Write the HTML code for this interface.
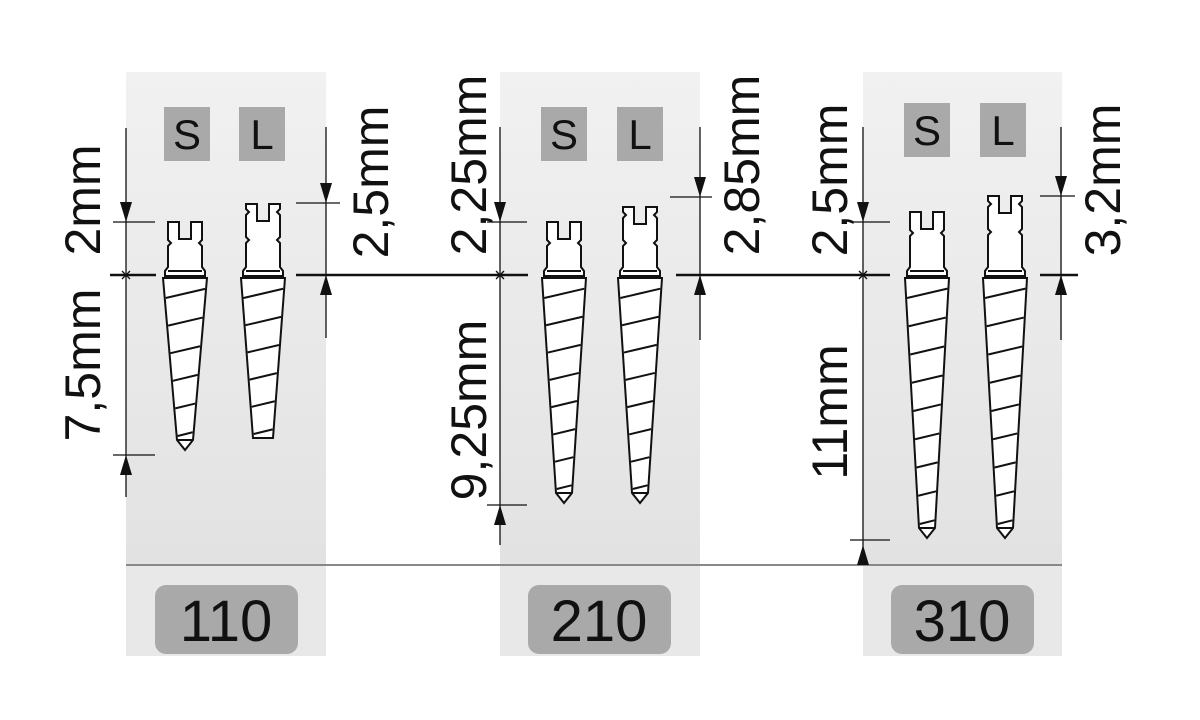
<!DOCTYPE html>
<html><head><meta charset="utf-8"><style>
html,body{margin:0;padding:0;background:#fff;}
svg{display:block;}
text{font-family:"Liberation Sans",sans-serif;fill:#111;}
</style></head><body>
<svg id="s" width="1200" height="720" viewBox="0 0 1200 720" xmlns="http://www.w3.org/2000/svg">
<defs>
<linearGradient id="g" x1="0" y1="0" x2="0" y2="1">
<stop offset="0" stop-color="#f1f1f1"/><stop offset="1" stop-color="#e2e2e2"/>
</linearGradient>
</defs>
<g id="panels">
<rect x="126" y="72" width="200" height="493" fill="url(#g)"/>
<rect x="500" y="72" width="200" height="493" fill="url(#g)"/>
<rect x="863" y="72" width="199" height="493" fill="url(#g)"/>
<rect x="126" y="565" width="200" height="91" fill="#e8e8e8"/>
<rect x="500" y="565" width="200" height="91" fill="#e8e8e8"/>
<rect x="863" y="565" width="199" height="91" fill="#e8e8e8"/>
<line x1="126" y1="565" x2="1062" y2="565" stroke="#888" stroke-width="2"/>
</g>
<g fill="#a9a9a9">
<rect x="164" y="107" width="46" height="54"/><rect x="239" y="107" width="46" height="54"/>
<rect x="541" y="107" width="46" height="54"/><rect x="617" y="107" width="46" height="54"/>
<rect x="904" y="103" width="46" height="54"/><rect x="980" y="103" width="46" height="54"/>
<rect x="155" y="585" width="143" height="69" rx="11"/>
<rect x="528" y="585" width="143" height="69" rx="11"/>
<rect x="891" y="585" width="143" height="69" rx="11"/>
</g>
<g font-size="42" text-anchor="middle">
<text x="187" y="149">S</text><text x="262" y="149">L</text>
<text x="564" y="149">S</text><text x="640" y="149">L</text>
<text x="927" y="145">S</text><text x="1003" y="145">L</text>
</g>
<g font-size="58" text-anchor="middle">
<text x="226" y="641">110</text><text x="599" y="641">210</text><text x="962" y="641">310</text>
</g>
<g stroke="#111" stroke-width="2.5">
<line x1="110" y1="275" x2="156" y2="275"/><line x1="296" y1="275" x2="528" y2="275"/>
<line x1="676" y1="275" x2="890" y2="275"/><line x1="1040" y1="275" x2="1078" y2="275"/>
</g>
<g id="dims" stroke="#111" stroke-width="1.3" fill="none"></g>
<g id="arr" fill="#111"></g>
<g id="posts" stroke="#111" stroke-width="2" fill="#fff"></g>
<g font-size="50" text-anchor="middle">
<text transform="translate(100,200) rotate(-90)">2mm</text>
<text transform="translate(100,365) rotate(-90)">7,5mm</text>
<text transform="translate(388,182) rotate(-90)">2,5mm</text>
<text transform="translate(486,165) rotate(-90)">2,25mm</text>
<text transform="translate(486,410) rotate(-90)">9,25mm</text>
<text transform="translate(759,165) rotate(-90)">2,85mm</text>
<text transform="translate(847,180) rotate(-90)">2,5mm</text>
<text transform="translate(847,412) rotate(-90)">11mm</text>
<text transform="translate(1120,180) rotate(-90)">3,2mm</text>
</g>
</svg>
<script>
var NS="http://www.w3.org/2000/svg";
function el(p,t,a){var e=document.createElementNS(NS,t);for(var k in a)e.setAttribute(k,a[k]);document.getElementById(p).appendChild(e);return e;}
function line(x1,y1,x2,y2){el("dims","line",{x1:x1,y1:y1,x2:x2,y2:y2});}
function down(x,y){el("arr","path",{d:"M"+(x-6)+" "+(y-20)+"L"+(x+6)+" "+(y-20)+"L"+x+" "+y+"Z"});}
function up(x,y){el("arr","path",{d:"M"+(x-6)+" "+(y+20)+"L"+(x+6)+" "+(y+20)+"L"+x+" "+y+"Z"});}
function xm(x,y){line(x-4,y-4,x+4,y+4);line(x-4,y+4,x+4,y-4);}
line(126,128,126,497);line(113,222,155,222);line(113,455,155,455);down(126,222);up(126,455);xm(126,275);
line(326,127,326,338);line(296,203,340,203);down(326,203);up(326,275);
line(500,127,500,545);line(487,222,527,222);line(487,505,527,505);down(500,222);up(500,505);xm(500,275);
line(700,127,700,340);line(670,197,712,197);down(700,197);up(700,275);
line(863,127,863,565);line(850,222,890,222);line(850,540,890,540);down(863,222);up(863,545);xm(863,275);
line(1061,127,1061,340);line(1040,196,1075,196);down(1061,196);up(1061,275);

function post(c,top,tip,L,flat){
  var w=17,t=top;
  var d="M"+(c-w)+" "+t+"L"+(c-6)+" "+t+"L"+(c-6)+" "+(t+17)+"L"+(c+6)+" "+(t+17)+"L"+(c+6)+" "+t+"L"+(c+w)+" "+t;
  var nr=[t+21]; if(L) nr=[t+8,t+36];
  nr.forEach(function(n){d+="L"+(c+w)+" "+(n-3)+"L"+(c+w-3)+" "+n+"L"+(c+w)+" "+(n+3);});
  d+="L"+(c+w)+" 267L"+(c+w+3)+" 271L"+(c+w+3)+" 276";
  d+="L"+(c-w-3)+" 276L"+(c-w-3)+" 271L"+(c-w)+" 267";
  nr.slice().reverse().forEach(function(n){d+="L"+(c-w)+" "+(n+3)+"L"+(c-w+3)+" "+n+"L"+(c-w)+" "+(n-3);});
  d+="Z";
  el("posts","path",{d:d});
  el("posts","line",{x1:c-w,y1:271,x2:c+w,y2:271});
  var hw0=22,hw1=flat?10:8,yb=flat?tip:tip-10;
  var td="M"+(c-hw0)+" 278L"+(c+hw0)+" 278L"+(c+hw1)+" "+yb;
  if(flat) td+="L"+(c-hw1)+" "+yb; else td+="L"+c+" "+tip+"L"+(c-hw1)+" "+yb;
  td+="Z";
  el("posts","path",{d:td});
  if(!flat) el("posts","line",{x1:c-hw1,y1:yb,x2:c+hw1,y2:yb});
  function hw(y){return hw0+(hw1-hw0)*(y-278)/(yb-278);}
  var n=Math.round((yb-278)/27);var sp=(yb-10-292)/(n-1);
  for(var i=0;i<n;i++){var yl=298+i*sp;if(yl>yb-3)break;var h=hw(yl);var yr=yl-h*0.45;
    el("posts","line",{x1:c-hw(yl)+1,y1:yl,x2:c+hw(yr)-1,y2:yr});}
}
post(185,222,450,false,false);post(263,204,438,true,true);
post(564,222,503,false,false);post(640,207,503,true,false);
post(927,212,538,false,false);post(1005,196,538,true,false);
</script>
</body></html>
